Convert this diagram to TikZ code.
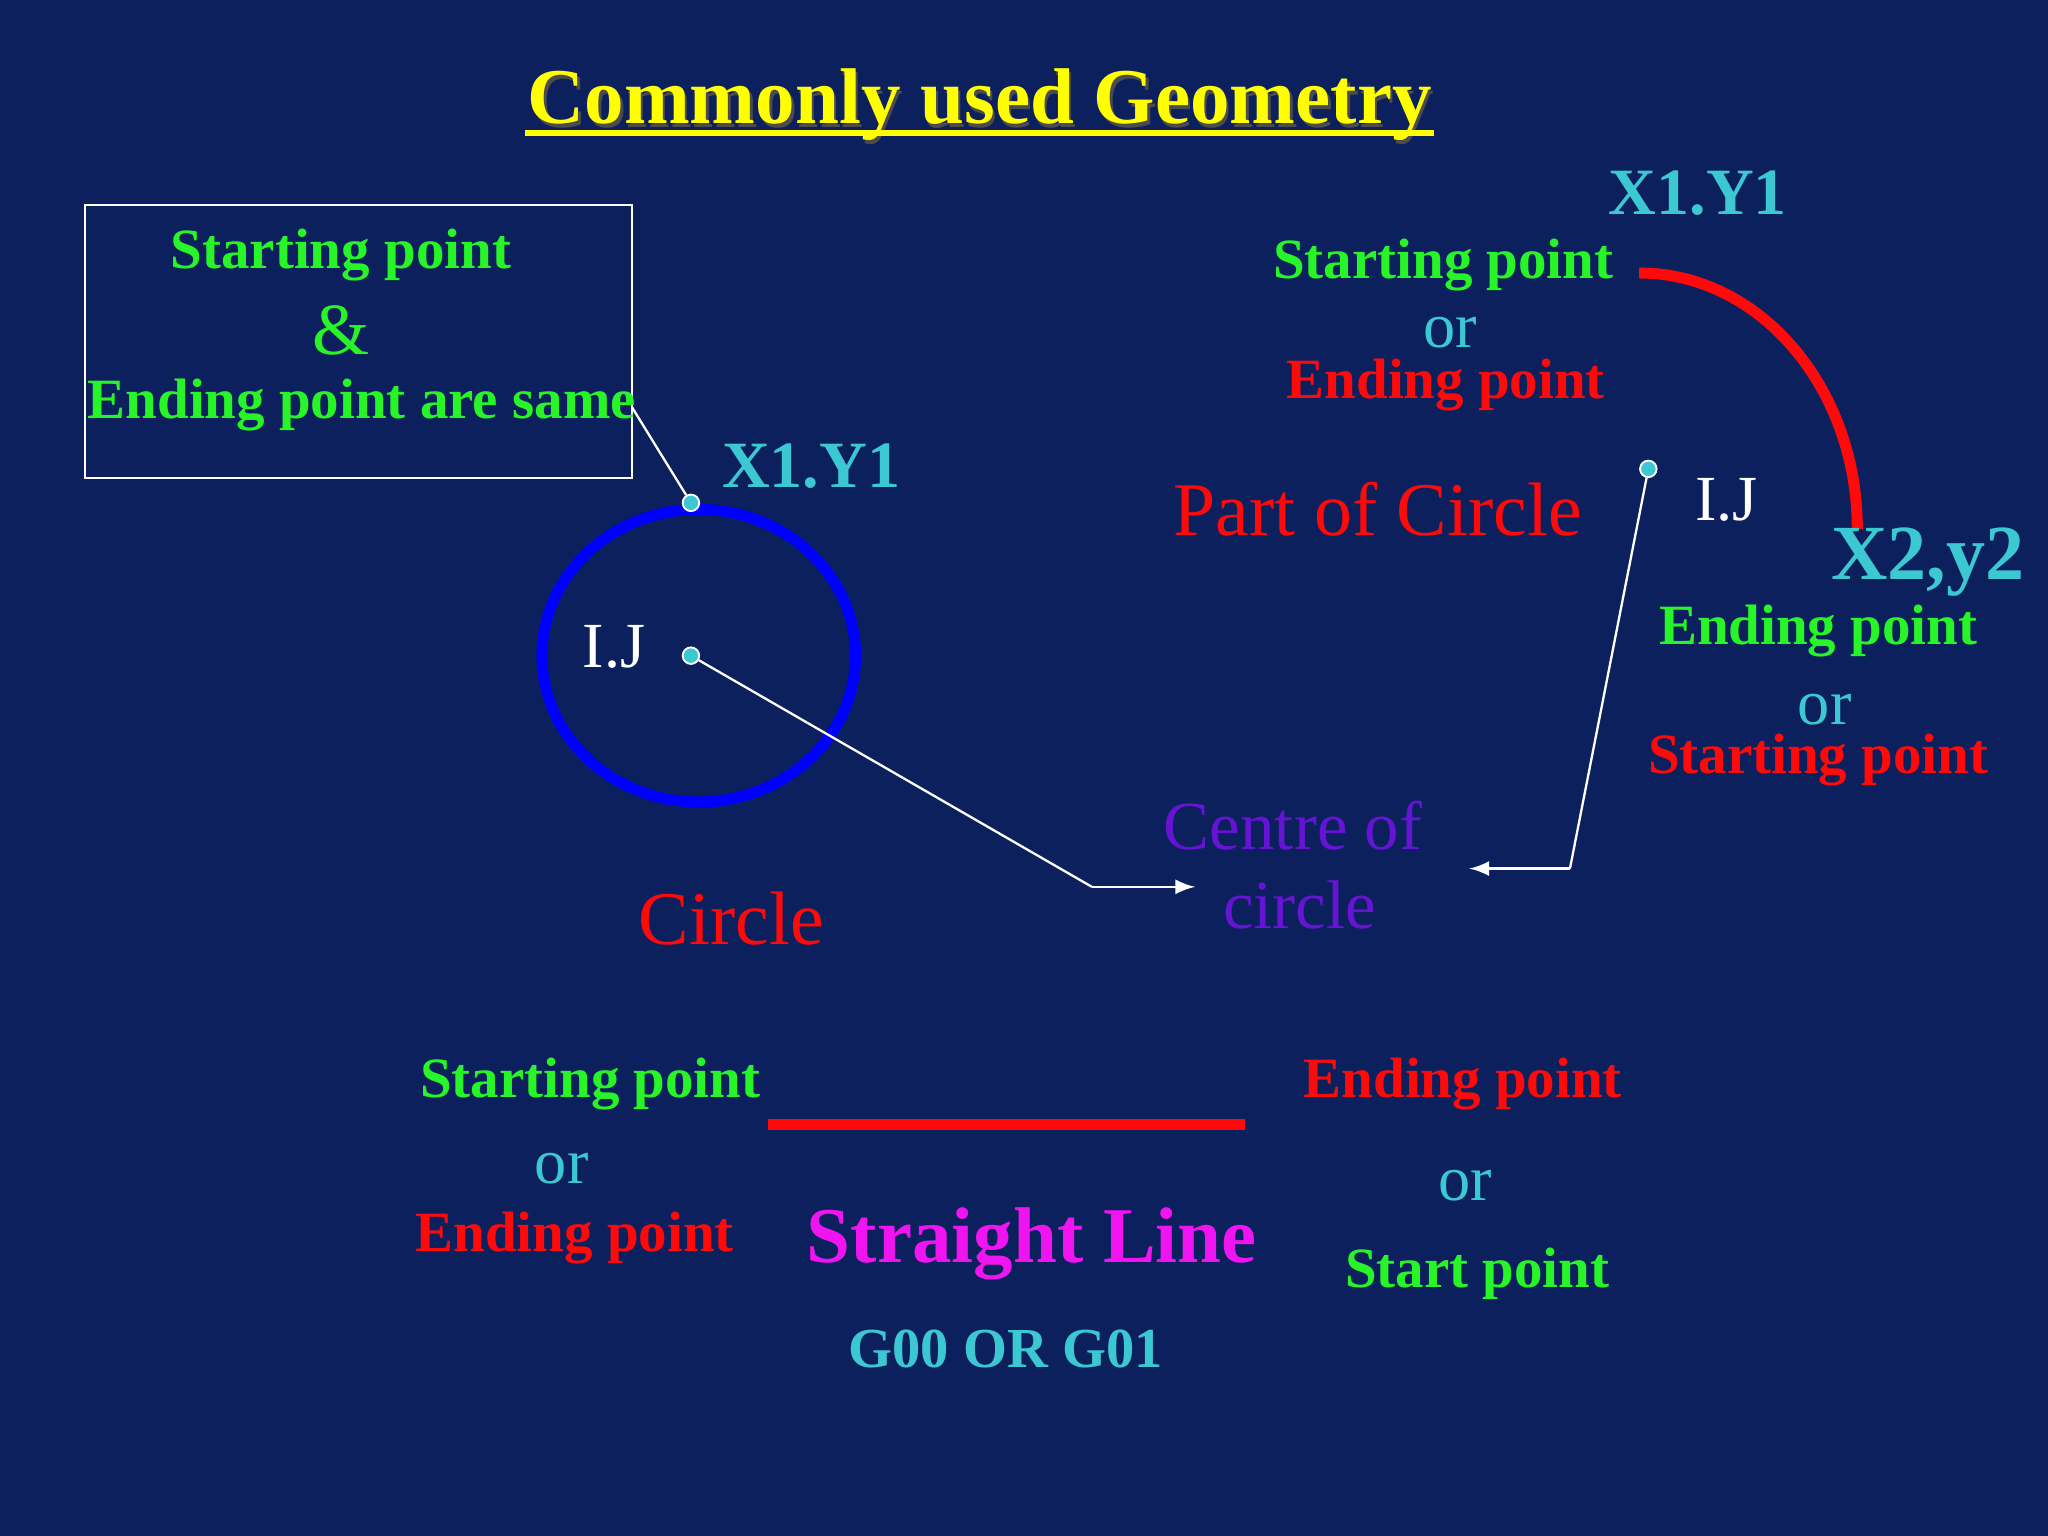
\documentclass[tikz,border=0pt]{standalone}
\usepackage{fontspec}
\setmainfont{Liberation Serif}
\begin{document}
\definecolor{bg}{RGB}{12,32,94}
\definecolor{grn}{RGB}{40,245,40}
\definecolor{cy}{RGB}{60,200,210}
\definecolor{rd}{RGB}{255,10,10}
\definecolor{pu}{RGB}{100,20,210}
\definecolor{mg}{RGB}{240,20,240}
\definecolor{yl}{RGB}{255,255,0}
\begin{tikzpicture}[x=0.01cm,y=-0.01cm,
 g/.style={text=grn,font=\fontsize{12.4}{14}\selectfont\bfseries,inner sep=0},
 r/.style={text=rd,font=\fontsize{12.4}{14}\selectfont\bfseries,inner sep=0},
 o/.style={text=cy,font=\fontsize{14}{16}\selectfont,inner sep=0},
 xy/.style={text=cy,font=\fontsize{14.4}{16}\selectfont\bfseries,inner sep=0},
 ij/.style={text=white,font=\fontsize{14}{16}\selectfont,inner sep=0},
 big/.style={text=rd,font=\fontsize{16.5}{18}\selectfont,inner sep=0},
 dot/.style={circle,fill=cy,draw=white,line width=0.4pt,minimum size=9pt*0.4,inner sep=0},
 ln/.style={white,line width=0.5pt},
 arr/.style={white,line width=0.5pt,-latex}]
\fill[bg] (0,0) rectangle (1568,1176);
\useasboundingbox (0,0) rectangle (1568,1176);
% title
\node[text=black!70,font=\fontsize{17.2}{20}\selectfont\bfseries,inner sep=0] at (752,83) {Commonly used Geometry};
\node[text=yl,font=\fontsize{17.2}{20}\selectfont\bfseries,inner sep=0] (t) at (750,80) {Commonly used Geometry};
\draw[yl,line width=1.2pt] (402,102) -- (1098,102);
% box
\node[draw=white,line width=0.5pt,minimum width=419*0.2845pt,minimum height=209*0.2845pt,inner sep=0] (box) at (274.5,261.5) {};
\node[g] at (261,195) {Starting point};
\node[text=grn,font=\fontsize{16}{18}\selectfont,inner sep=0] at (261,253) {\&};
\node[g] at (277,310) {Ending point are same};
% circle
\draw[blue,line width=2.4pt] (535,502) ellipse [x radius=120,y radius=112];
\node[dot] (p1) at (529,385) {};
\node[dot] (c1) at (529,502) {};
\coordinate (b1) at (484,312);
\draw[ln] (b1) -- (p1);
\node[xy] at (621,357) {X1.Y1};
\node[ij] at (470,495) {I.J};
\node[big] at (560,703) {Circle};
\coordinate (k1) at (836,679);
\coordinate (e1) at (915,679);
\draw[ln] (c1) -- (k1);
\draw[arr] (k1) -- (e1);
\node[text=pu,font=\fontsize{15}{17}\selectfont,inner sep=0] at (990,632) {Centre of};
\node[text=pu,font=\fontsize{15}{17}\selectfont,inner sep=0] at (995,693) {circle};
% arc part
\draw[rd,line width=2.4pt] (1255,209) arc[start angle=90,end angle=0,x radius=167,y radius=-196];
\node[dot] (c2) at (1262,359) {};
\coordinate (k2) at (1202,665);
\coordinate (e2) at (1125,665);
\draw[ln] (c2) -- (k2);
\draw[arr] (k2) -- (e2);
\node[xy] at (1300,148) {X1.Y1};
\node[g] at (1105,203) {Starting point};
\node[o] at (1110,255) {or};
\node[r] at (1107,295) {Ending point};
\node[big] at (1055,390) {Part of Circle};
\node[ij] at (1322,383) {I.J};
\node[text=cy,font=\fontsize{17}{19}\selectfont\bfseries,inner sep=0] at (1476,430) {X2,y2};
\node[g] at (1392,483) {Ending point};
\node[o] at (1397,543) {or};
\node[r] at (1392,582) {Starting point};
% straight line
\coordinate (l1) at (588,861);
\coordinate (l2) at (953,861);
\draw[rd,line width=2.4pt] (l1) -- (l2);
\node[g] at (452,830) {Starting point};
\node[o] at (430,895) {or};
\node[r] at (440,948) {Ending point};
\node[text=mg,font=\fontsize{17.2}{19}\selectfont\bfseries,inner sep=0] at (790,952) {Straight Line};
\node[text=cy,font=\fontsize{12.3}{14}\selectfont\bfseries,inner sep=0] at (770,1033) {G00 OR G01};
\node[r] at (1120,830) {Ending point};
\node[o] at (1122,908) {or};
\node[g] at (1131,975) {Start point};
\end{tikzpicture}
\end{document}
